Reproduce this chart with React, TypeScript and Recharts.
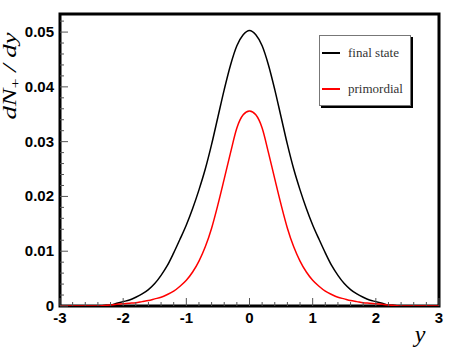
import React from 'react';
import { LineChart, Line, XAxis, YAxis, ReferenceArea } from 'recharts';

// rapidity grid
const rapidity = [
  -3.0, -2.9, -2.8, -2.7, -2.6, -2.5, -2.4, -2.3, -2.2, -2.1, -2.0,
  -1.9, -1.8, -1.7, -1.6, -1.5, -1.4, -1.3, -1.2, -1.1, -1.0,
  -0.9, -0.8, -0.7, -0.6, -0.5, -0.4, -0.3, -0.2, -0.1, 0.0,
  0.1, 0.2, 0.3, 0.4, 0.5, 0.6, 0.7, 0.8, 0.9, 1.0,
  1.1, 1.2, 1.3, 1.4, 1.5, 1.6, 1.7, 1.8, 1.9, 2.0,
  2.1, 2.2, 2.3, 2.4, 2.5, 2.6, 2.7, 2.8, 2.9, 3.0,
];

// dN+/dy, final state
const finalState = [
  0, 0, 0, 0, 0, 0, 0, 0.0001, 0.0002, 0.0005, 0.0008,
  0.0011, 0.0016, 0.0022, 0.003, 0.0041, 0.0056, 0.0074, 0.0097, 0.0122, 0.0148,
  0.0178, 0.0212, 0.025, 0.0295, 0.0345, 0.0395, 0.044, 0.0475, 0.0495, 0.0503,
  0.0495, 0.0475, 0.044, 0.0395, 0.0345, 0.0295, 0.025, 0.0212, 0.0178, 0.0148,
  0.0122, 0.0097, 0.0074, 0.0056, 0.0041, 0.003, 0.0022, 0.0016, 0.0011, 0.0008,
  0.0005, 0.0002, 0.0001, 0, 0, 0, 0, 0, 0, 0,
];

// dN+/dy, primordial
const primordial = [
  0, 0, 0, 0, 0, 0, 0, 0.0001, 0.0002, 0.0003, 0.0004,
  0.0005, 0.0006, 0.0008, 0.001, 0.0013, 0.0016, 0.0021, 0.0027, 0.0036, 0.0047,
  0.0062, 0.0082, 0.0108, 0.0142, 0.0185, 0.0232, 0.028, 0.0325, 0.0349, 0.0356,
  0.0349, 0.0325, 0.028, 0.0232, 0.0185, 0.0142, 0.0108, 0.0082, 0.0062, 0.0047,
  0.0036, 0.0027, 0.0021, 0.0016, 0.0013, 0.001, 0.0008, 0.0006, 0.0005, 0.0004,
  0.0003, 0.0002, 0.0001, 0, 0, 0, 0, 0, 0, 0,
];

const seriesNames = ['final state', 'primordial'];
const seriesColors = ['#000000', '#ff0000'];

const xMajorTicks = [-3, -2, -1, 0, 1, 2, 3];
const xTickLabels = ['-3', '-2', '-1', '0', '1', '2', '3'];
const yMajorTicks = [0, 0.01, 0.02, 0.03, 0.04, 0.05];
const yTickLabels = ['0', '0.01', '0.02', '0.03', '0.04', '0.05'];

const X_MIN = -3;
const X_MAX = 3;
const Y_MAX = 0.0533;

const xTicks = Array.from({ length: 31 }, (_, i) => Math.round((X_MIN + i * 0.2) * 10) / 10);
const yTicks = Array.from({ length: 27 }, (_, i) => Math.round(i * 0.002 * 1000) / 1000);

const data = rapidity.map((y, i) => ({ y, fs: finalState[i], pr: primordial[i] }));

const TICK_FONT = "'Liberation Sans Narrow', 'Liberation Sans', Arial, sans-serif";
const Y_GAP = 6;
const X_GAP = 4;

const isMajor = (list: number[], v: number) => list.findIndex((m) => Math.abs(m - v) < 1e-9);

const YTick = (props: any) => {
  const { x, y, payload } = props;
  const idx = isMajor(yMajorTicks, payload.value);
  const ax = x + Y_GAP;
  return (
    <g>
      <line x1={ax} x2={ax + (idx >= 0 ? 8 : 4)} y1={y} y2={y} stroke="#555" strokeWidth={1} />
      {idx >= 0 && (
        <text x={x} y={y} dy={5} textAnchor="end" fontFamily={TICK_FONT} fontWeight="bold" fontSize={15} fill="#000">
          {yTickLabels[idx]}
        </text>
      )}
    </g>
  );
};

const XTick = (props: any) => {
  const { x, y, payload } = props;
  const idx = isMajor(xMajorTicks, payload.value);
  const ay = y - X_GAP;
  return (
    <g>
      <line x1={x} x2={x} y1={ay} y2={ay - (idx >= 0 ? 8 : 4)} stroke="#555" strokeWidth={1} />
      {idx >= 0 && (
        <text x={x} y={y} dy={13} textAnchor="middle" fontFamily={TICK_FONT} fontWeight="bold" fontSize={15} fill="#000">
          {xTickLabels[idx]}
        </text>
      )}
    </g>
  );
};

const YTitle = () => (
  <text
    x={16}
    y={76}
    transform="rotate(-90 16 76)"
    textAnchor="middle"
    fontFamily="'Liberation Serif', serif"
    fontStyle="italic"
    fontSize={18}
    textLength={87}
    lengthAdjust="spacingAndGlyphs"
    fill="#000"
  >
    dN<tspan fontStyle="normal" fontSize={12} dy={4}>+</tspan>
    <tspan dy={-4}> / dy</tspan>
  </text>
);

const XTitle = () => (
  <text x={420} y={342} textAnchor="middle" fontFamily="'Liberation Serif', serif" fontStyle="italic" fontSize={24} fill="#000">
    y
  </text>
);

export default function App() {
  return (
    <div style={{ position: 'absolute', left: 0, top: 0, width: 458, height: 354, background: '#fff' }}>
      <LineChart width={458} height={354} data={data} margin={{ top: 14, right: 19, bottom: 0, left: 0 }}>
        <XAxis
          type="number"
          dataKey="y"
          domain={[X_MIN, X_MAX]}
          ticks={xTicks}
          interval={0}
          tickSize={0}
          tickMargin={X_GAP}
          tickLine={false}
          axisLine={false}
          height={48}
          tick={<XTick />}
          allowDataOverflow
        />
        <YAxis
          type="number"
          domain={[0, Y_MAX]}
          ticks={yTicks}
          interval={0}
          tickSize={0}
          tickMargin={Y_GAP}
          tickLine={false}
          axisLine={false}
          width={60}
          tick={<YTick />}
          allowDataOverflow
        />
        <ReferenceArea x1={X_MIN} x2={X_MAX} y1={0} y2={Y_MAX} fill="none" fillOpacity={0} stroke="#000" strokeWidth={3} />
        <Line type="monotone" dataKey="fs" name={seriesNames[0]} stroke={seriesColors[0]} strokeWidth={1.5} dot={false} isAnimationActive={false} />
        <Line type="monotone" dataKey="pr" name={seriesNames[1]} stroke={seriesColors[1]} strokeWidth={1.5} dot={false} isAnimationActive={false} />
        <YTitle />
        <XTitle />
      </LineChart>
      <div
        style={{
          position: 'absolute',
          left: 319,
          top: 35,
          width: 92,
          height: 71,
          boxSizing: 'border-box',
          border: '1px solid #777',
          boxShadow: '2px 2px 0 #000',
          background: '#fff',
        }}
      >
        {seriesNames.map((name, i) => (
          <div key={name} style={{ position: 'absolute', left: 2, top: 10 + i * 36, height: 14, width: 86 }}>
            <div style={{ position: 'absolute', left: 0, top: 6, width: 18, height: 1.5, background: seriesColors[i] }} />
            <div
              style={{
                position: 'absolute',
                left: 26,
                top: -2,
                fontFamily: "'Liberation Serif', serif",
                fontSize: 13,
                color: '#333',
                whiteSpace: 'nowrap',
                lineHeight: '18px',
              }}
            >
              {name}
            </div>
          </div>
        ))}
      </div>
    </div>
  );
}
